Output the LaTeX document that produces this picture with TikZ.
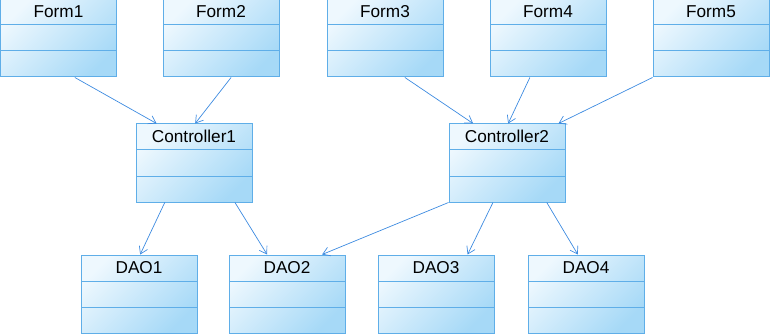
\documentclass[tikz,border=0pt]{standalone}
\usepackage{fontspec}
\setmainfont{Liberation Sans}
\usetikzlibrary{arrows.meta,calc}
\definecolor{boxline}{HTML}{5FAEE8}
\definecolor{boxlight}{HTML}{EEF8FE}
\definecolor{boxdark}{HTML}{A6D9F7}
\definecolor{arrowblue}{HTML}{3D8BE0}
\tikzset{
  umlbox/.style={draw=boxline, line width=1pt, rectangle, minimum width=116pt, minimum height=78pt,
    inner sep=0pt, top color=boxlight, bottom color=boxdark, shading angle=45,
    path picture={
      \draw[boxline, line width=1pt] ($(path picture bounding box.north west)+(0,-26pt)$) -- ($(path picture bounding box.north east)+(0,-26pt)$);
      \draw[boxline, line width=1pt] ($(path picture bounding box.north west)+(0,-52pt)$) -- ($(path picture bounding box.north east)+(0,-52pt)$);
    }},
  boxtitle/.style={font=\fontsize{17.2}{20}\selectfont, text=black, inner sep=0pt, anchor=center},
  conn/.style={draw=arrowblue, line width=0.7pt, -{Straight Barb[length=7pt,width=9pt,line width=0.7pt]}}
}
\newcommand{\umlclass}[4]{%
  \node[umlbox] (#1) at (#2,#3) {};
  \node[boxtitle] (#1t) at ($(#1.north)+(0,-13pt)$) {#4};
}
\begin{document}
\begin{tikzpicture}[x=1pt,y=-1pt]
\useasboundingbox (0,0) rectangle (771,334);
\umlclass{f1}{58.5}{38}{Form1}
\umlclass{f2}{221}{38}{Form2}
\umlclass{f3}{385}{38}{Form3}
\umlclass{f4}{548}{38}{Form4}
\umlclass{f5}{711}{38}{Form5}
\umlclass{c1}{194}{163}{Controller1}
\umlclass{c2}{507}{163}{Controller2}
\umlclass{d1}{139}{294}{DAO1}
\umlclass{d2}{287}{294}{DAO2}
\umlclass{d3}{436}{294}{DAO3}
\umlclass{d4}{586}{294}{DAO4}
\draw[conn] ($(f1.south west)!0.64!(f1.south east)$) -- ($(c1.north west)!0.18!(c1.north east)$);
\draw[conn] ($(f2.south west)!0.586!(f2.south east)$) -- ($(c1.north west)!0.51!(c1.north east)$);
\draw[conn] ($(f3.south west)!0.67!(f3.south east)$) -- ($(c2.north west)!0.21!(c2.north east)$);
\draw[conn] ($(f4.south west)!0.345!(f4.south east)$) -- ($(c2.north west)!0.51!(c2.north east)$);
\draw[conn] (f5.south west) -- ($(c2.north west)!0.94!(c2.north east)$);
\draw[conn] ($(c1.south west)!0.25!(c1.south east)$) -- ($(d1.north west)!0.51!(d1.north east)$);
\draw[conn] ($(c1.south west)!0.85!(c1.south east)$) -- ($(d2.north west)!0.33!(d2.north east)$);
\draw[conn] (c2.south west) -- ($(d2.north west)!0.80!(d2.north east)$);
\draw[conn] ($(c2.south west)!0.38!(c2.south east)$) -- ($(d3.north west)!0.77!(d3.north east)$);
\draw[conn] ($(c2.south west)!0.84!(c2.south east)$) -- ($(d4.north west)!0.43!(d4.north east)$);
\end{tikzpicture}
\end{document}
